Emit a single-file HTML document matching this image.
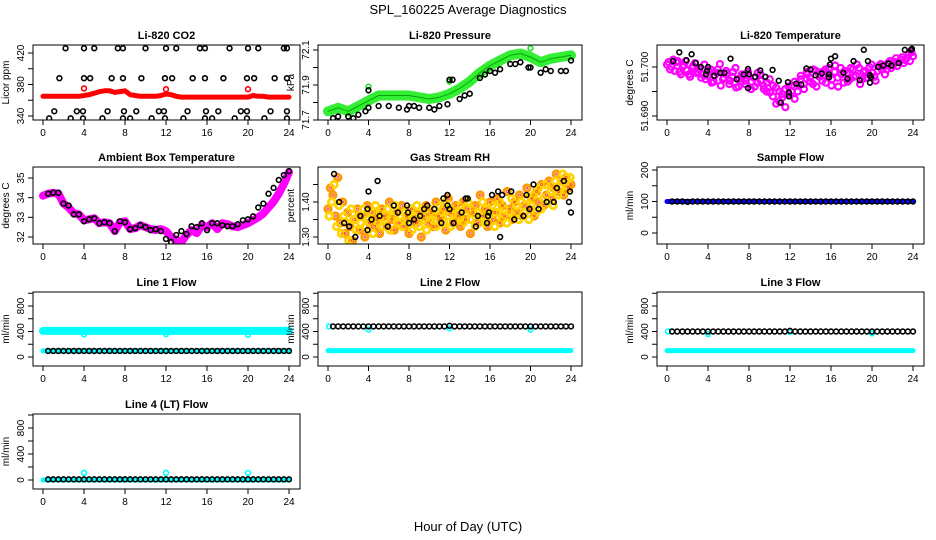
<!DOCTYPE html>
<html><head><meta charset="utf-8"><title>SPL_160225 Average Diagnostics</title>
<style>
body{margin:0;background:#fff;}
svg{display:block;font-family:"Liberation Sans",sans-serif;}
</style></head>
<body>
<svg id="chart" width="936" height="540" viewBox="0 0 936 540">
<text x="468" y="14" text-anchor="middle" font-size="13">SPL_160225  Average Diagnostics</text>
<text x="468" y="531" text-anchor="middle" font-size="13">Hour of Day (UTC)</text>
</svg>
<script>
// ---------- data ----------
const xTicks = [0,4,8,12,16,20,24];
const co2Red = [365,365,365,365,365,365,365,365,366,367,369,371,372,372,370,371,372,367,366,365,365,365,365,366,368,367,365,364,364,364,364,364,364,364,364,364,364,364,364,364,364,366,365,365,364,364,364,364,364];
const co2RedOutH = [4,12,20];
const co2RedOutV = [375,374,374];
const co2TopH = [2.2,4,5,7.3,7.8,10,12,13,15.3,15.8,18.2,20,21,23.5,23.8];
const co2MidH = [1.6,4,4.6,6.7,7.8,9.6,11.9,12.6,14.6,15.8,17.6,19.9,20.6,22.6,23.8];
const co2LowH = [1.1,3.3,3.9,6.3,7.9,9.1,11.3,11.8,14.1,15.9,17.1,19.3,19.9,22.2,23.8];
const co2BotH = [0.6,2.7,3.9,5.8,7.8,8.5,10.6,11.9,13.7,15.8,16.5,18.7,19.9,21.6,23.8];
const co2Levels = [426,388,346,337];

const presGreen = [71.75,71.77,71.75,71.78,71.81,71.84,71.84,71.84,71.84,71.83,71.82,71.83,71.85,71.88,71.92,71.97,72.01,72.04,72.07,72.08,72.06,72.03,72.05,72.06,72.07];
const presGreenOutH = [4,12,20];
const presGreenOutV = [71.89,71.92,72.11];
const presBlackH = [0.5,1,2,2.5,3,3.7,4,4,5,6,7,7.8,8,8.5,9,10,10.5,11,11.8,12,12.3,13,13.5,14,15,15.5,16,16.5,17,18,18.5,19,19.8,20,21,21.5,22,23,23.5,24];
const presBlackV = [71.71,71.72,71.72,71.71,71.73,71.75,71.77,71.87,71.78,71.78,71.77,71.76,71.78,71.78,71.77,71.77,71.76,71.78,71.79,71.93,71.93,71.82,71.84,71.85,71.94,71.96,71.98,71.97,71.99,72.02,72.02,72.03,72.0,72.0,71.97,71.99,71.98,71.98,71.98,72.04];

const tempMag = [51.7005,51.6995,51.7015,51.7010,51.6990,51.7000,51.7012,51.6985,51.6998,51.7008,
51.6990,51.6978,51.7005,51.6982,51.6995,51.6970,51.6988,51.7006,51.6975,51.6992,
51.6965,51.6980,51.6998,51.6960,51.6985,51.6972,51.6990,51.6955,51.6978,51.6968,
51.6985,51.6962,51.6950,51.6975,51.6940,51.6958,51.6930,51.6945,51.6918,51.6960,
51.6950,51.6935,51.6965,51.6975,51.6955,51.6985,51.6970,51.6995,51.6960,51.6980,
51.6990,51.6968,51.6998,51.6975,51.7003,51.6960,51.6985,51.6992,51.6970,51.6998,
51.6980,51.7005,51.6965,51.6990,51.6978,51.7000,51.6988,51.6972,51.7002,51.6995,
51.6985,51.7008,51.6998,51.7010,51.7002,51.7015,51.7008,51.7018,51.7012,51.7022];
const tempMag2 = [51.7010,51.7000,51.6992,51.7012,51.6985,51.7004,51.6993,51.6980,51.7002,51.6988,
51.6995,51.6985,51.6975,51.6992,51.6968,51.6983,51.6995,51.6962,51.6978,51.6987,
51.6972,51.6990,51.6958,51.6976,51.6980,51.6965,51.6982,51.6970,51.6960,51.6988,
51.6972,51.6955,51.6968,51.6948,51.6962,51.6925,51.6950,51.6938,51.6955,51.6945,
51.6962,51.6970,51.6950,51.6982,51.6965,51.6990,51.6978,51.6965,51.6992,51.6985,
51.6972,51.6995,51.6980,51.6962,51.6990,51.6978,51.6998,51.6968,51.6988,51.6975,
51.6995,51.6982,51.6998,51.6975,51.6992,51.6985,51.7005,51.6980,51.6992,51.7006,
51.7000,51.6995,51.7012,51.7004,51.7018,51.7010,51.7020,51.7014,51.7025,51.7030];
const tempBlackH = [0.6,1.2,1.9,2.4,2.8,3.3,3.8,3.9,4.0,4.6,5.2,5.6,6.2,6.8,7.5,7.9,8.0,7.9,8.6,9.1,9.6,10.3,10.9,11.1,11.8,11.9,11.9,12.6,13.1,13.6,14.0,14.5,15.1,15.8,15.8,15.9,16.0,16.4,17.2,17.6,18.2,18.8,19.2,19.6,19.8,19.9,19.8,20.6,21.1,21.6,21.9,22.6,23.2,23.8,23.9];
const tempBlackV = [51.7012,51.7030,51.7014,51.7026,51.7008,51.7000,51.6985,51.6992,51.7000,51.6982,51.6988,51.6988,51.7017,51.6975,51.6985,51.6996,51.6985,51.6957,51.6980,51.6993,51.6980,51.6994,51.6972,51.6927,51.6969,51.6948,51.6940,51.6966,51.6964,51.6997,51.6995,51.6983,51.6987,51.6985,51.6979,51.7005,51.7017,51.7022,51.6988,51.6976,51.7012,51.6973,51.7035,51.7012,51.6983,51.6979,51.6968,51.7000,51.7003,51.7007,51.7003,51.7008,51.7035,51.7035,51.7037];

const ambMag = [34.1,34.2,34.25,34.2,33.7,33.5,33.2,33.15,32.85,32.9,32.95,32.7,32.75,32.7,32.3,32.75,32.8,32.4,32.45,32.6,32.5,32.4,32.35,32.4,32.3,32.0,31.85,31.75,32.1,32.35,32.2,32.6,32.5,32.7,32.4,32.7,32.65,32.55,32.5,32.6,32.7,32.85,33.0,33.2,33.5,33.8,34.2,34.7,35.3];
const ambBlack = [34.2,34.25,34.25,33.7,33.6,33.15,33.15,32.8,32.9,32.95,32.7,32.75,32.7,32.3,32.8,32.75,32.4,32.45,32.6,32.5,32.35,32.4,32.3,31.9,31.75,32.1,32.3,32.15,32.55,32.5,32.7,32.35,32.7,32.7,32.6,32.55,32.55,32.65,32.85,32.9,33.05,33.5,33.7,34.2,34.5,34.9,35.15,35.35];

const rhScatter = [1.38,1.44,1.42,1.36,1.47,1.34,1.40,1.31,1.37,1.33,1.29,1.35,1.38,1.32,1.36,1.30,1.39,1.34,1.37,1.33,
1.35,1.31,1.38,1.36,1.33,1.40,1.35,1.32,1.37,1.34,1.39,1.33,1.36,1.31,1.38,1.35,1.34,1.37,1.30,1.36,
1.39,1.34,1.37,1.33,1.40,1.36,1.35,1.38,1.32,1.41,1.37,1.34,1.39,1.36,1.33,1.40,1.35,1.38,1.31,1.37,
1.39,1.34,1.42,1.36,1.38,1.33,1.40,1.35,1.37,1.41,1.34,1.39,1.36,1.43,1.38,1.35,1.40,1.37,1.42,1.36,
1.39,1.44,1.38,1.41,1.36,1.43,1.40,1.45,1.39,1.42,1.46,1.41,1.44,1.48,1.43,1.46,1.42,1.47,1.44,1.45];
const rhScatter2 = [1.36,1.40,1.45,1.33,1.39,1.31,1.36,1.34,1.29,1.38,1.35,1.32,1.36,1.34,1.38,1.33,1.35,1.37,1.31,1.39,
1.34,1.37,1.33,1.35,1.38,1.32,1.36,1.39,1.34,1.36,1.33,1.37,1.35,1.38,1.32,1.36,1.39,1.33,1.37,1.35,
1.32,1.38,1.35,1.36,1.33,1.39,1.37,1.34,1.40,1.36,1.33,1.38,1.35,1.37,1.39,1.34,1.36,1.40,1.35,1.38,
1.33,1.37,1.36,1.40,1.34,1.38,1.36,1.39,1.33,1.37,1.40,1.35,1.38,1.34,1.37,1.41,1.36,1.39,1.35,1.40,
1.37,1.41,1.35,1.39,1.42,1.37,1.44,1.38,1.41,1.45,1.40,1.43,1.39,1.46,1.42,1.44,1.48,1.43,1.46,1.47];
const rhBlackH = [0.6,1.1,1.6,2.1,2.7,3.2,3.9,3.9,4.0,4.3,4.9,5.1,5.9,6.5,6.9,7.8,7.9,8.0,8.5,9.1,9.5,9.8,10.5,11.2,11.4,11.8,11.8,12.0,12.4,13.2,13.6,13.8,14.6,14.8,15.7,15.8,15.9,16.2,16.8,17.0,17.2,18.1,18.4,19.3,19.6,19.9,20.3,20.8,21.6,22.3,22.6,23.3,23.8,23.9,24.0];
const rhBlackV = [1.48,1.40,1.34,1.33,1.30,1.36,1.38,1.32,1.43,1.35,1.46,1.36,1.33,1.39,1.37,1.39,1.37,1.34,1.35,1.36,1.38,1.39,1.38,1.34,1.41,1.42,1.39,1.38,1.34,1.37,1.41,1.41,1.33,1.36,1.34,1.36,1.37,1.42,1.43,1.30,1.42,1.43,1.35,1.36,1.42,1.38,1.45,1.38,1.40,1.40,1.44,1.46,1.40,1.43,1.37];

const flowHalfHours = [0.5,1,1.5,2,2.5,3,3.5,4,4.5,5,5.5,6,6.5,7,7.5,8,8.5,9,9.5,10,10.5,11,11.5,12,12.5,13,13.5,14,14.5,15,15.5,16,16.5,17,17.5,18,18.5,19,19.5,20,20.5,21,21.5,22,22.5,23,23.5,24];
const sampleBlack = [100,100,100,99,100,100,100,100,100,100,100,100,100,100,100,100,100,100,100,100,100,100,100,100,100,100,100,100,100,100,100,100,100,100,100,100,100,100,100,100,100,100,100,100,100,100,100,100];
const sampleBlue = 100;
const line1Black = [95,95,95,95,95,95,95,95,95,95,95,95,95,95,95,95,95,95,95,95,95,95,95,95,95,95,95,95,95,95,95,95,95,95,95,95,95,95,95,95,95,95,95,95,95,95,95,95];
const line1CyanHigh = 410, line1CyanLow = 95;
const line1OutH = [4,12,20], line1OutV = [355,360,350];
const line2Black = [480,480,480,480,480,480,480,480,480,480,480,480,480,480,480,480,480,480,480,480,480,480,480,490,480,480,480,480,480,480,480,480,480,480,480,480,480,480,480,480,480,480,480,480,480,480,480,480];
const line2CyanLow = 100;
const line2OutH = [0.1,4,12,20], line2OutV = [480,430,450,430];
const line3Black = [400,400,400,400,400,400,400,400,400,400,400,400,400,400,400,400,400,400,400,400,400,400,400,410,400,400,400,400,400,400,400,400,400,400,400,400,400,400,400,400,400,400,400,400,400,400,400,400];
const line3CyanLow = 100;
const line3OutH = [0.1,4,12,20], line3OutV = [400,360,390,370];
const line4Black = [10,10,10,10,10,10,10,10,10,10,10,10,10,10,10,10,10,10,10,10,10,10,10,10,10,10,10,10,10,10,10,10,10,10,10,10,10,10,10,10,10,10,10,10,10,10,10,10];
const line4OutH = [4,12,20], line4OutV = [110,110,110];

// ---------- drawing ----------
const NS = "http://www.w3.org/2000/svg";
const svg = document.getElementById('chart');
const cols = [{b0:33,b1:300,x0:43,x1:289},{b0:318,b1:582,x0:328,x1:571},{b0:657,b1:924,x0:667,x1:913}];
const rows = [{t:45,b:120},{t:167,b:244},{t:292,b:366},{t:414,b:489}];
function mk(tag, attrs, parent){const e=document.createElementNS(NS,tag);for(const k in attrs)e.setAttribute(k,attrs[k]);(parent||svg).appendChild(e);return e;}

function panel(name, c, r, title, ylab, v0, p0, v1, p1, ticks, labels){
  const C=cols[c], R=rows[r];
  const g=mk('g',{});
  
  
  const xs=h=>C.x0+(C.x1-C.x0)*h/24;
  const ys=v=>p0+(v-v0)*(p1-p0)/(v1-v0);
  const clip='clip-'+name;
  const cp=mk('clipPath',{id:clip},g); mk('rect',{x:C.b0,y:R.t,width:C.b1-C.b0,height:R.b-R.t},cp);
  const data=mk('g',{'clip-path':'url(#'+clip+')'},g);
  
  
  const box=mk('rect',{x:C.b0,y:R.t,width:C.b1-C.b0,height:R.b-R.t,fill:'none',stroke:'#000','stroke-width':1},g);
  
  
  const tt=mk('text',{x:(C.b0+C.b1)/2,y:R.t-6,'text-anchor':'middle','font-size':11,'font-weight':'bold'},g);
  tt.textContent=title;
  
  
  xTicks.forEach(h=>{
    mk('line',{x1:xs(h),x2:xs(h),y1:R.b,y2:R.b+5,stroke:'#000'},g);
    const t=mk('text',{x:xs(h),y:R.b+16,'text-anchor':'middle','font-size':10},g);
    t.textContent=h;
    
    
  });
  ticks.forEach(v=>{
    mk('line',{x1:C.b0-5,x2:C.b0,y1:ys(v),y2:ys(v),stroke:'#000'},g);
  });
  labels.forEach(l=>{
    const y=ys(parseFloat(l));
    const t=mk('text',{x:C.b0-9,y:y,'text-anchor':'middle','font-size':10,transform:'rotate(-90 '+(C.b0-9)+' '+y+')'},g);
    t.textContent=l;
    
    
  });
  const yl=mk('text',{x:C.b0-24,y:(R.t+R.b)/2,'text-anchor':'middle','font-size':10,transform:'rotate(-90 '+(C.b0-24)+' '+((R.t+R.b)/2)+')'},g);
  yl.textContent=ylab;
  
  
  return {g:data,xs,ys};
}
function pt(P,h,v,col,name,r,sw){
  const e=mk('circle',{cx:P.xs(h),cy:P.ys(v),r:r||2.4,fill:'none',stroke:col,'stroke-width':sw||1.6},P.g);
  
  
}
function line(P,hs,vs,col,w,name){
  const d=hs.map((h,i)=>(i?'L':'M')+P.xs(h).toFixed(1)+' '+P.ys(vs[i]).toFixed(1)).join(' ');
  const e=mk('path',{d:d,fill:'none',stroke:col,'stroke-width':w,'stroke-linejoin':'round','stroke-linecap':'round'},P.g);
  
  
}
const idxH=arr=>arr.map((_,i)=>i*24/(arr.length-1));

// CO2
let P=panel('co2',0,0,'Li-820 CO2','Licor ppm',340,116,420,53,[340,360,380,400,420],['340','380','420']);
line(P,idxH(co2Red),co2Red,'#f00',5,'co2-red-series');
co2RedOutH.forEach((h,i)=>pt(P,h,co2RedOutV[i],'#f00','co2-red-point'));
[co2TopH,co2MidH,co2LowH,co2BotH].forEach((arr,k)=>arr.forEach(h=>pt(P,h,co2Levels[k],'#000','co2-black-point')));

// Pressure
P=panel('pressure',1,0,'Li-820 Pressure','kPa',71.7,120,72.1,50,[71.7,71.8,71.9,72.0,72.1],['71.7','71.9','72.1']);
line(P,idxH(presGreen),presGreen,'#3e3',10,'pressure-green-series');
line(P,idxH(presGreen),presGreen,'#0a0',1,'pressure-green-center');
presGreenOutH.forEach((h,i)=>pt(P,h,presGreenOutV[i],'#2d2','pressure-green-point'));
presBlackH.forEach((h,i)=>pt(P,h,presBlackV[i],'#000','pressure-black-point'));

// Temperature
P=panel('li820-temp',2,0,'Li-820 Temperature','degrees C',51.690,116,51.700,67,[51.690,51.695,51.700],['51.690','51.700']);
tempMag.forEach((v,i)=>pt(P,i*24/(tempMag.length-1),v,'#f0f','temp-magenta-point',3,2.2));
tempMag2.forEach((v,i)=>pt(P,0.15+i*23.7/(tempMag2.length-1),v,'#f0f','temp-magenta-point',3,2.2));
tempBlackH.forEach((h,i)=>pt(P,h,tempBlackV[i],'#000','temp-black-point'));

// Ambient
P=panel('ambient-temp',0,1,'Ambient Box Temperature','degrees C',32,237,35,178,[32,33,34,35],['32','33','34','35']);
line(P,idxH(ambMag),ambMag,'#f0f',8,'ambient-magenta-series');
ambBlack.forEach((v,i)=>pt(P,flowHalfHours[i],v,'#000','ambient-black-point'));

// RH
P=panel('rh',1,1,'Gas Stream RH','percent',1.30,237,1.40,202,[1.30,1.35,1.40,1.45],['1.30','1.40']);
rhScatter.forEach((v,i)=>pt(P,i*24/(rhScatter.length-1),v,'#f90','rh-orange-point',3.2,2.8));
rhScatter2.forEach((v,i)=>pt(P,0.12+i*23.8/(rhScatter2.length-1),v,'#ffd400','rh-yellow-point',3.2,2.8));
rhScatter.forEach((v,i)=>pt(P,i*24/(rhScatter.length-1),v,'#e33','rh-red-point',1,0.8));
rhBlackH.forEach((h,i)=>pt(P,h,rhBlackV[i],'#000','rh-black-point'));

// Sample flow
P=panel('sample-flow',2,1,'Sample Flow','ml/min',0,233,200,170,[0,50,100,150,200],['0','100','200']);
line(P,[0,24],[sampleBlue,sampleBlue],'#00f',5,'sample-flow-blue-series');
sampleBlack.forEach((v,i)=>pt(P,flowHalfHours[i],v,'#000','sample-flow-black-point'));

// Line flows
const fT=[0,200,400,600,800,1000], fL=['0','400','800'];
P=panel('line1-flow',0,2,'Line 1 Flow','ml/min',0,357,800,306,fT,fL);
line(P,[0,24],[line1CyanHigh,line1CyanHigh],'#0ff',8,'line1-cyan-high');
line(P,[0,24],[line1CyanLow,line1CyanLow],'#0ff',5,'line1-cyan-low');
line1OutH.forEach((h,i)=>pt(P,h,line1OutV[i],'#0ff','line1-cyan-point'));
line1Black.forEach((v,i)=>pt(P,flowHalfHours[i],v,'#000','line1-black-point'));

P=panel('line2-flow',1,2,'Line 2 Flow','ml/min',0,357,800,306,fT,fL);
line(P,[0,24],[line2CyanLow,line2CyanLow],'#0ff',5,'line2-cyan-low');
line2OutH.forEach((h,i)=>pt(P,h,line2OutV[i],'#0ff','line2-cyan-point'));
line2Black.forEach((v,i)=>pt(P,flowHalfHours[i],v,'#000','line2-black-point'));

P=panel('line3-flow',2,2,'Line 3 Flow','ml/min',0,357,800,306,fT,fL);
line(P,[0,24],[line3CyanLow,line3CyanLow],'#0ff',5,'line3-cyan-low');
line3OutH.forEach((h,i)=>pt(P,h,line3OutV[i],'#0ff','line3-cyan-point'));
line3Black.forEach((v,i)=>pt(P,flowHalfHours[i],v,'#000','line3-black-point'));

P=panel('line4-flow',0,3,'Line 4 (LT) Flow','ml/min',0,480,800,428,fT,fL);
line(P,[0,24],[0,0],'#0ff',5,'line4-cyan-low');
line4OutH.forEach((h,i)=>pt(P,h,line4OutV[i],'#0ff','line4-cyan-point'));
line4Black.forEach((v,i)=>pt(P,flowHalfHours[i],v,'#000','line4-black-point'));
</script>
</body></html>
